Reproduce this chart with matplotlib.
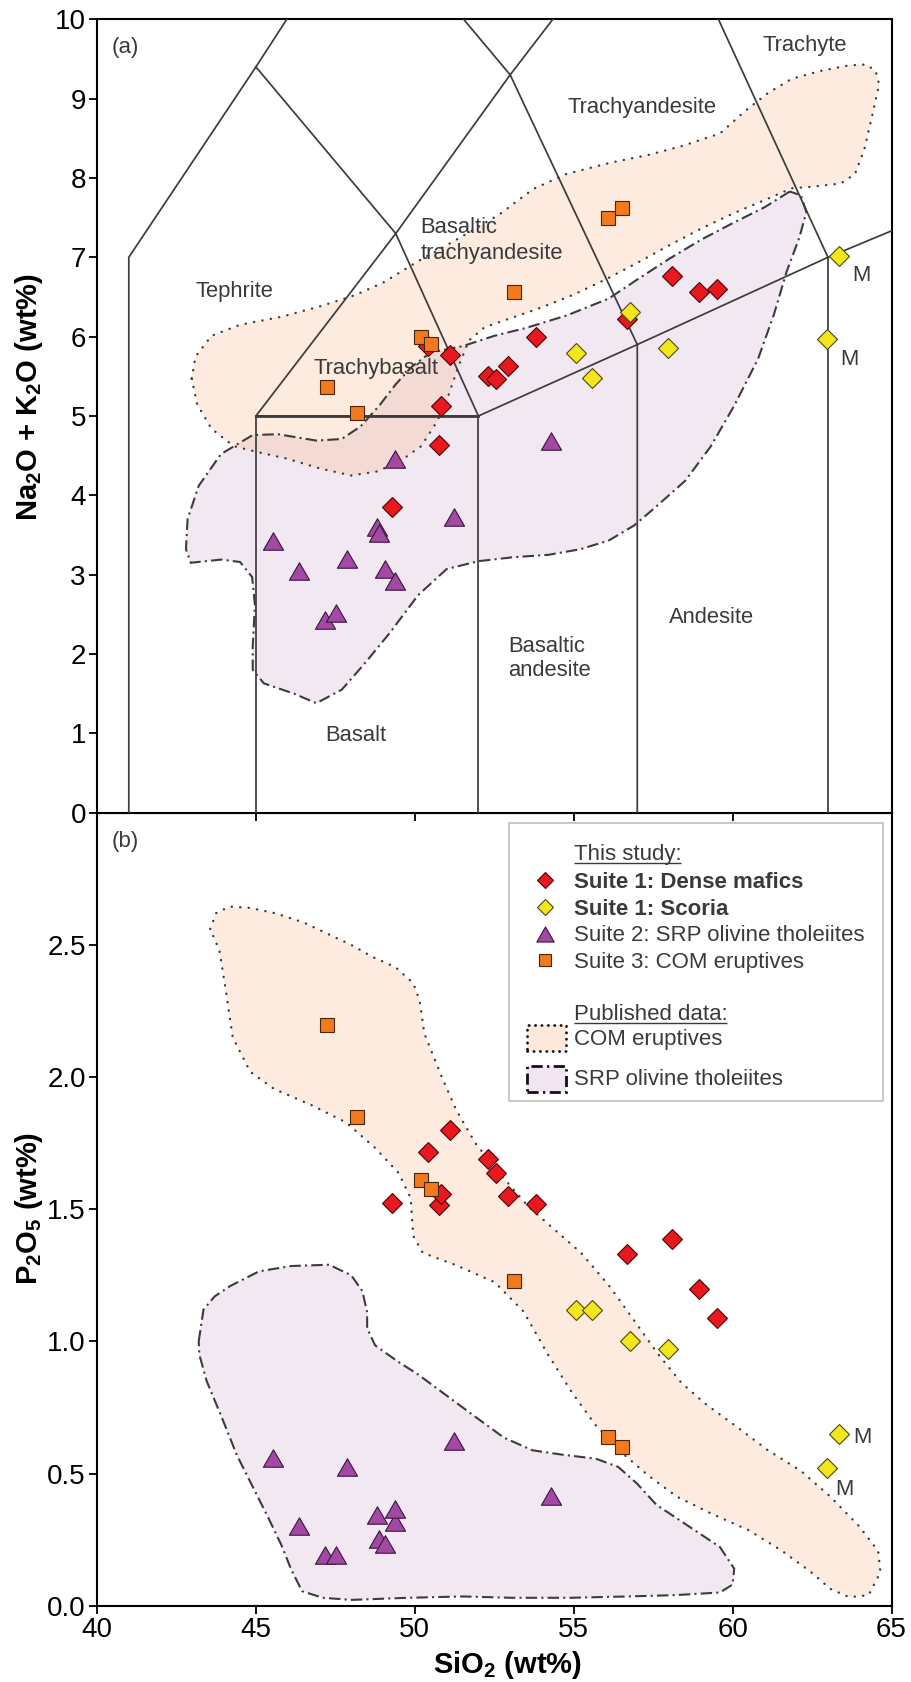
import matplotlib
matplotlib.use('Agg')
import matplotlib.pyplot as plt
from matplotlib.path import Path
from matplotlib.patches import Polygon, Rectangle

plt.rcParams['font.family'] = ['Liberation Sans', 'DejaVu Sans']
plt.rcParams['mathtext.fontset'] = 'custom'
plt.rcParams['mathtext.rm'] = 'Liberation Sans'
plt.rcParams['mathtext.bf'] = 'Liberation Sans:bold'
plt.rcParams['mathtext.it'] = 'Liberation Sans:italic'

# ---------------- data ----------------
# Suite 1: Dense mafics
dense_sio2 = [49.27, 50.40, 50.77, 50.81, 51.10, 52.29, 52.56, 52.94, 53.80, 56.69, 58.10, 58.93, 59.51]
dense_tas = [3.85, 5.88, 4.63, 5.12, 5.77, 5.51, 5.46, 5.63, 6.00, 6.22, 6.76, 6.56, 6.60]
dense_p2o5 = [1.522, 1.717, 1.515, 1.558, 1.800, 1.690, 1.637, 1.550, 1.521, 1.330, 1.388, 1.200, 1.090]
# Suite 1: Scoria
scoria_sio2 = [55.08, 55.56, 56.77, 57.98, 63.35, 62.98]
scoria_tas = [5.80, 5.48, 6.31, 5.86, 7.02, 5.97]
scoria_p2o5 = [1.120, 1.120, 1.000, 0.972, 0.650, 0.522]
# Suite 2: SRP olivine tholeiites
srp_sio2 = [45.55, 46.37, 47.16, 47.53, 47.88, 48.82, 48.86, 49.06, 49.37, 49.38, 51.22, 54.29]
srp_tas = [3.42, 3.04, 2.43, 2.52, 3.20, 3.60, 3.53, 3.07, 2.92, 4.46, 3.73, 4.69]
srp_p2o5 = [0.560, 0.302, 0.193, 0.193, 0.525, 0.345, 0.254, 0.235, 0.315, 0.366, 0.624, 0.414]
# Suite 3: COM eruptives
com_sio2 = [47.25, 48.19, 50.18, 50.51, 53.11, 56.09, 56.52]
com_tas = [5.36, 5.04, 5.99, 5.91, 6.56, 7.49, 7.62]
com_p2o5 = [2.197, 1.850, 1.610, 1.578, 1.229, 0.640, 0.600]

# Published-data fields (outline vertices), TAS diagram
com_field_tas = [
    (42.98, 5.47), (43.10, 5.75), (43.60, 6.01), (44.50, 6.15), (45.80, 6.25), (47.00, 6.38),
    (48.10, 6.52), (49.00, 6.68), (50.10, 6.95), (51.30, 7.22), (52.66, 7.54), (53.72, 7.86),
    (54.77, 8.05), (56.13, 8.19), (57.34, 8.29), (58.39, 8.40), (59.60, 8.56), (60.35, 8.83),
    (61.11, 9.07), (61.86, 9.25), (62.77, 9.35), (63.67, 9.42), (64.20, 9.43), (64.50, 9.35),
    (64.61, 9.18), (64.40, 8.80), (64.15, 8.37), (63.85, 8.05), (63.40, 7.93), (62.50, 7.89),
    (61.86, 7.87), (61.00, 7.72), (60.00, 7.55), (59.00, 7.36), (58.00, 7.15), (57.00, 6.93),
    (56.00, 6.72), (55.00, 6.53), (54.00, 6.37), (53.00, 6.23), (52.20, 6.12), (51.70, 5.95),
    (51.35, 5.60), (51.05, 5.25), (50.70, 4.93), (50.20, 4.62), (49.50, 4.42), (48.80, 4.30),
    (48.00, 4.25), (47.00, 4.34), (46.00, 4.46), (45.00, 4.55), (44.30, 4.62), (43.60, 4.84),
    (43.15, 5.15)]
srp_field_tas = [
    (61.80, 7.83), (61.00, 7.63), (60.00, 7.43), (59.00, 7.22), (58.00, 6.98), (57.00, 6.72),
    (56.10, 6.48), (54.80, 6.27), (53.50, 6.11), (52.50, 6.01), (51.50, 5.88), (50.50, 5.80),
    (49.90, 5.62), (49.40, 5.40), (48.90, 5.14), (48.30, 4.87), (47.70, 4.71), (46.90, 4.69),
    (45.70, 4.77), (44.90, 4.76), (43.90, 4.52), (43.20, 4.12), (42.85, 3.70), (42.80, 3.32),
    (42.95, 3.15), (43.90, 3.19), (44.50, 3.16), (44.88, 2.97), (44.97, 2.62), (44.90, 2.10),
    (44.90, 1.80), (45.25, 1.63), (46.20, 1.50), (46.90, 1.38), (47.70, 1.55), (48.40, 1.87),
    (49.20, 2.26), (50.10, 2.74), (51.00, 3.07), (52.00, 3.17), (53.10, 3.22), (54.20, 3.25),
    (55.20, 3.32), (56.10, 3.43), (56.90, 3.62), (57.60, 3.86), (58.50, 4.18), (59.30, 4.61),
    (60.05, 5.13), (60.80, 5.72), (61.30, 6.28), (61.70, 6.82), (62.10, 7.25), (62.32, 7.57),
    (62.15, 7.78)]
# Published-data fields, P2O5 diagram
com_field_p = [
    (43.56, 2.56), (43.75, 2.62), (44.17, 2.645), (44.81, 2.64), (45.60, 2.62), (46.50, 2.585),
    (47.20, 2.545), (48.00, 2.50), (48.66, 2.455), (49.40, 2.415), (49.95, 2.355), (50.15, 2.29),
    (50.30, 2.165), (50.85, 2.00), (51.30, 1.876), (51.91, 1.749), (52.66, 1.637), (53.57, 1.51),
    (54.32, 1.431), (55.23, 1.335), (56.13, 1.208), (56.89, 1.081), (57.64, 0.954), (58.39, 0.843),
    (59.15, 0.763), (60.05, 0.684), (61.11, 0.588), (62.16, 0.509), (63.07, 0.413), (63.97, 0.302),
    (64.58, 0.207), (64.65, 0.127), (64.28, 0.040), (63.67, 0.032), (63.07, 0.064), (62.47, 0.127),
    (61.56, 0.207), (60.50, 0.286), (59.30, 0.350), (58.24, 0.413), (57.34, 0.493), (56.58, 0.572),
    (55.68, 0.684), (54.92, 0.811), (54.17, 0.954), (53.42, 1.113), (52.51, 1.224), (51.30, 1.288),
    (50.25, 1.335), (49.95, 1.399), (49.87, 1.542), (49.49, 1.637), (48.74, 1.733), (47.84, 1.828),
    (46.78, 1.892), (45.57, 1.955), (44.82, 2.02), (44.27, 2.15), (44.05, 2.33), (43.85, 2.48)]
srp_field_p = [
    (43.20, 1.00), (43.35, 1.12), (43.70, 1.17), (44.20, 1.21), (45.10, 1.265), (46.10, 1.285),
    (47.30, 1.29), (48.00, 1.25), (48.35, 1.19), (48.50, 1.11), (48.50, 1.05), (48.75, 0.985),
    (49.45, 0.925), (50.10, 0.875), (51.00, 0.795), (51.90, 0.715), (52.80, 0.636), (53.70, 0.588),
    (54.60, 0.572), (55.70, 0.556), (56.40, 0.525), (57.00, 0.461), (57.60, 0.382), (58.40, 0.318),
    (59.00, 0.270), (59.60, 0.222), (60.05, 0.140), (60.00, 0.080), (59.60, 0.050), (58.20, 0.040),
    (56.70, 0.035), (54.90, 0.030), (53.00, 0.030), (51.50, 0.035), (49.80, 0.030), (48.00, 0.022),
    (47.10, 0.030), (46.45, 0.055), (46.10, 0.140), (45.80, 0.230), (45.40, 0.330), (44.90, 0.450),
    (44.40, 0.570), (43.90, 0.720), (43.45, 0.850), (43.22, 0.950)]

# TAS classification boundaries (Le Bas et al. 1986)
tas_boundaries = [
    [(41, 0), (41, 7), (45, 9.4), (48.4, 11.5)],
    [(45, 0), (45, 5), (52, 5), (52, 0)],
    [(45, 5), (49.4, 7.3), (52, 5)],
    [(45, 9.4), (49.4, 7.3), (53, 9.3), (57.6, 11.7)],
    [(48.4, 11.5), (53, 9.3), (57, 5.9), (57, 0)],
    [(52, 5), (57, 5.9), (63, 7), (69, 8)],
    [(57.6, 11.7), (63, 7), (63, 0)],
]
basalt_top = [(45, 5), (52, 5)]
# field names: (text, x, baseline y, horizontal alignment)
tas_names = [
    ("Trachyte", 62.28, 9.60, 'center'),
    ("Trachyandesite", 57.16, 8.82, 'center'),
    ("Basaltic", 50.17, 7.31, 'left'),
    ("trachyandesite", 50.17, 6.98, 'left'),
    ("Tephrite", 44.34, 6.50, 'center'),
    ("Trachybasalt", 48.77, 5.53, 'center'),
    ("Basalt", 48.15, 0.90, 'center'),
    ("Basaltic", 52.93, 2.03, 'left'),
    ("andesite", 52.93, 1.72, 'left'),
    ("Andesite", 59.34, 2.39, 'center'),
]
m_pos_tas = [(64.05, 6.70), (63.67, 5.64)]
m_pos_p = [(64.08, 0.614), (63.52, 0.418)]

xticks = [40, 45, 50, 55, 60, 65]
tas_ticks = list(range(0, 11))
p_ticks = [0.0, 0.5, 1.0, 1.5, 2.0, 2.5]
p_ticklabels = ['0.0', '0.5', '1.0', '1.5', '2.0', '2.5']

# ---------------- styles ----------------
RED, REDE = '#e8191e', '#4a0606'
YEL, YELE = '#f3e61c', '#4d4710'
PUR, PURE = '#a349a4', '#3a153d'
ORA, ORAE = '#f27a1c', '#4a2406'
COM_FILL, COM_A = '#f6b98a', 0.28
SRP_FILL, SRP_A = '#c89ac8', 0.22
LINEC = '#3c3c3c'
TXT = '#3a3a3a'
DOT = (0, (0.1, 3.5))
DASHDOT = (0, (5.5, 2.0, 1.0, 2.0))
TRI = Path([(-1, -0.866), (1, -0.866), (0, 0.866), (-1, -0.866)], closed=True)

fig = plt.figure(figsize=(9.12, 16.82), dpi=100)
axb = fig.add_axes([0.10636, 0.04536, 0.8712, 0.47146])
axa = fig.add_axes([0.10636, 0.51683, 0.8712, 0.47170])


def style_axis(ax):
    for s in ax.spines.values():
        s.set_linewidth(1.5)
        s.set_color('black')
    ax.tick_params(direction='out', length=6, width=1.3, labelsize=20, pad=2,
                   colors='black')
    ax.set_xlim(40, 65)
    ax.set_xticks(xticks)


def draw_fields(ax, com_poly, srp_poly):
    ax.add_patch(Polygon(srp_poly, closed=True, facecolor=SRP_FILL, alpha=SRP_A,
                         edgecolor='none', zorder=1))
    ax.add_patch(Polygon(com_poly, closed=True, facecolor=COM_FILL, alpha=COM_A,
                         edgecolor='none', zorder=1.1))
    ax.add_patch(Polygon(srp_poly, closed=True, facecolor='none', edgecolor=LINEC,
                         linewidth=1.5, linestyle=DASHDOT, zorder=2))
    ax.add_patch(Polygon(com_poly, closed=True, facecolor='none', edgecolor=LINEC,
                         linewidth=1.7, linestyle=DOT, capstyle='round', zorder=2))


def draw_points(ax, ycols):
    yd, ys, yp, yc = ycols
    ax.plot(srp_sio2, yp, linestyle='none', marker=TRI, markersize=14.5,
            markerfacecolor=PUR, markeredgecolor=PURE, markeredgewidth=0.8, zorder=5)
    ax.plot(dense_sio2, yd, linestyle='none', marker='D', markersize=10,
            markerfacecolor=RED, markeredgecolor=REDE, markeredgewidth=0.8, zorder=6)
    ax.plot(scoria_sio2, ys, linestyle='none', marker='D', markersize=10,
            markerfacecolor=YEL, markeredgecolor=YELE, markeredgewidth=0.8, zorder=6.5)
    ax.plot(com_sio2, yc, linestyle='none', marker='s', markersize=10.5,
            markerfacecolor=ORA, markeredgecolor=ORAE, markeredgewidth=0.8, zorder=7)


# ---------------- panel (a) ----------------
style_axis(axa)
axa.set_ylim(0, 10)
axa.set_yticks(tas_ticks)
axa.tick_params(axis='x', labelbottom=False)
draw_fields(axa, com_field_tas, srp_field_tas)
for seg in tas_boundaries:
    xs, ys = zip(*seg)
    axa.plot(xs, ys, color=LINEC, linewidth=1.25, zorder=3, solid_joinstyle='miter')
bx, by = zip(*basalt_top)
axa.plot(bx, by, color=LINEC, linewidth=2.0, zorder=3)
for name, x, y, ha in tas_names:
    axa.text(x, y, name, ha=ha, va='baseline', fontsize=15.8, color=TXT, zorder=4)
for (x, y) in m_pos_tas:
    axa.text(x, y, 'M', ha='center', va='baseline', fontsize=15.8, color=TXT, zorder=8)
axa.text(40.47, 9.57, '(a)', ha='left', va='baseline', fontsize=16, color=TXT)
draw_points(axa, (dense_tas, scoria_tas, srp_tas, com_tas))
axa.text(-0.0856, 0.524, r'Na$_\mathbf{2}$O + K$_\mathbf{2}$O (wt%)', transform=axa.transAxes,
         rotation=90, ha='center', va='center', fontsize=21, fontweight='bold')

# ---------------- panel (b) ----------------
style_axis(axb)
axb.set_ylim(0, 3.0)
axb.set_yticks(p_ticks)
axb.set_yticklabels(p_ticklabels)
axb.set_xticklabels([str(v) for v in xticks])
draw_fields(axb, com_field_p, srp_field_p)
draw_points(axb, (dense_p2o5, scoria_p2o5, srp_p2o5, com_p2o5))
for (x, y) in m_pos_p:
    axb.text(x, y, 'M', ha='center', va='baseline', fontsize=15.8, color=TXT, zorder=8)
axb.text(40.47, 2.870, '(b)', ha='left', va='baseline', fontsize=16, color=TXT)
axb.text(-0.0856, 0.5015, r'P$_\mathbf{2}$O$_\mathbf{5}$ (wt%)', transform=axb.transAxes,
         rotation=90, ha='center', va='center', fontsize=21, fontweight='bold')
axb.text(0.516, -0.0748, r'SiO$_\mathbf{2}$ (wt%)', transform=axb.transAxes,
         ha='center', va='center', fontsize=21, fontweight='bold')

# ---------------- legend (drawn in panel b) ----------------
axb.add_patch(Rectangle((52.97, 1.91), 64.72 - 52.97, 2.96 - 1.91, facecolor='white',
                        edgecolor='#c4c4c4', linewidth=1.3, zorder=8))
LX_M, LX_T = 54.09, 55.0
legend_rows = [
    ("Suite 1: Dense mafics", 2.747, 'D', 8.3, RED, REDE, 'bold'),
    ("Suite 1: Scoria", 2.644, 'D', 8.3, YEL, YELE, 'bold'),
    ("Suite 2: SRP olivine tholeiites", 2.543, TRI, 12.5, PUR, PURE, 'normal'),
    ("Suite 3: COM eruptives", 2.442, 's', 9.0, ORA, ORAE, 'normal'),
]
underlined = []
underlined.append(axb.text(LX_T, 2.822, "This study:", ha='left', va='baseline',
                           fontsize=16, color=TXT, zorder=9))
for label, y, mk, ms, fc, ec, fw in legend_rows:
    axb.plot([LX_M], [y], linestyle='none', marker=mk, markersize=ms, markerfacecolor=fc,
             markeredgecolor=ec, markeredgewidth=0.8, zorder=9)
    axb.text(LX_T, y - 0.030, label, ha='left', va='baseline', fontsize=16,
             fontweight=fw, color=TXT, zorder=9)
underlined.append(axb.text(LX_T, 2.217, "Published data:", ha='left', va='baseline',
                           fontsize=16, color=TXT, zorder=9))
axb.add_patch(Rectangle((53.52, 2.099), 1.23, 0.097, facecolor=COM_FILL, alpha=0.3,
                        edgecolor='none', zorder=9))
axb.add_patch(Rectangle((53.52, 2.099), 1.23, 0.097, facecolor='none', edgecolor='#111111',
                        linewidth=2.0, linestyle=(0, (0.1, 2.2)), capstyle='round', zorder=9.5))
axb.text(LX_T, 2.122, "COM eruptives", ha='left', va='baseline', fontsize=16, color=TXT, zorder=9)
axb.add_patch(Rectangle((53.52, 1.942), 1.23, 0.100, facecolor=SRP_FILL, alpha=0.25,
                        edgecolor='none', zorder=9))
axb.add_patch(Rectangle((53.52, 1.942), 1.23, 0.100, facecolor='none', edgecolor='#111111',
                        linewidth=2.0, linestyle=(0, (4.0, 1.6, 0.8, 1.6)), zorder=9.5))
axb.text(LX_T, 1.970, "SRP olivine tholeiites", ha='left', va='baseline', fontsize=16,
         color=TXT, zorder=9)

fig.canvas.draw()
renderer = fig.canvas.get_renderer()
inv = axb.transData.inverted()
for t in underlined:
    bb = t.get_window_extent(renderer)
    (x0, _), (x1, _) = inv.transform([(bb.x0, bb.y0), (bb.x1, bb.y0)])
    ybase = t.get_position()[1] - 0.012
    axb.plot([x0, x1], [ybase, ybase], color=TXT, linewidth=1.0, zorder=9,
             solid_capstyle='butt')

fig.savefig('out.png', dpi=100)
